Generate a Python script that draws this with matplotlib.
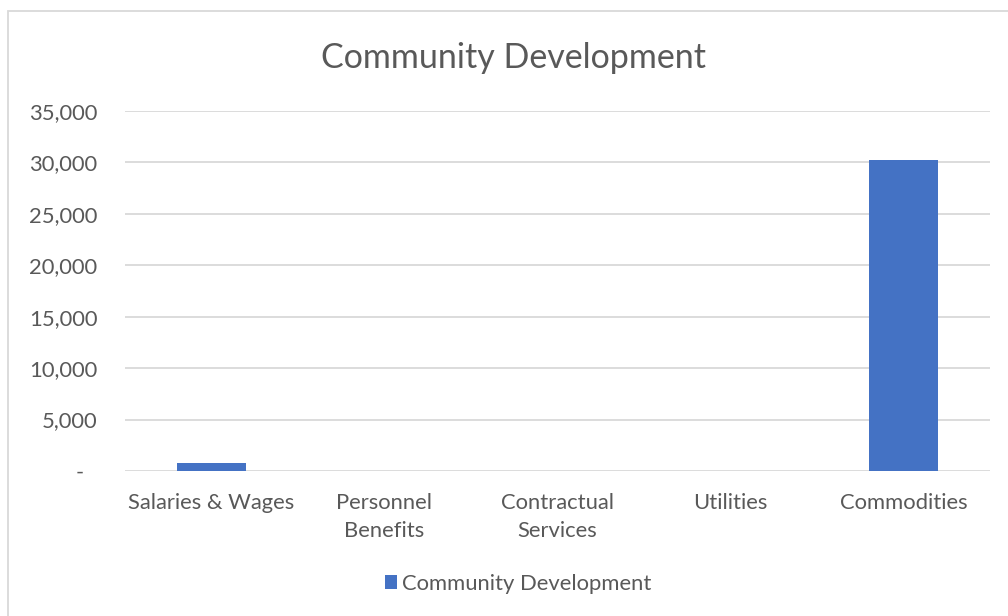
import matplotlib
matplotlib.use("Agg")
import matplotlib.pyplot as plt
from matplotlib.patches import Rectangle
from matplotlib.ticker import FuncFormatter, MultipleLocator

categories = ["Salaries & Wages", "Personnel\nBenefits", "Contractual\nServices", "Utilities", "Commodities"]
values = [750, 0, 0, 0, 30200]
series_name = "Community Development"

BAR_COLOR = "#4472C4"
TEXT_COLOR = "#595959"
GRID_COLOR = "#D9D9D9"
FONT = ["Lato", "DejaVu Sans"]

fig = plt.figure(figsize=(10.08, 6.16), dpi=100)
fig.patch.set_facecolor("white")

# chart frame
fig.add_artist(Rectangle((8 / 1008, -0.1), 1.2, 1 - 11 / 616 + 0.1,
                         transform=fig.transFigure, fill=False,
                         edgecolor=GRID_COLOR, linewidth=1.3))

ax = fig.add_axes([125 / 1008, 1 - 471 / 616, 865 / 1008, 360 / 616])
x = range(len(categories))
bars = ax.bar(x, values, width=0.4, color=BAR_COLOR, label=series_name, zorder=3)

ax.set_xlim(-0.5, len(categories) - 0.5)
ax.set_ylim(0, 35000)
ax.yaxis.set_major_locator(MultipleLocator(5000))


def fmt(v, pos):
    return "-\u2007" if v == 0 else f"{int(v):,}"


ax.yaxis.set_major_formatter(FuncFormatter(fmt))
ax.grid(axis="y", color=GRID_COLOR, linewidth=1.3, zorder=0)
for s in ax.spines.values():
    s.set_visible(False)
ax.tick_params(axis="both", length=0, colors=TEXT_COLOR, labelsize=15.8)
ax.tick_params(axis="y", pad=20)
ax.tick_params(axis="x", pad=16)
ax.set_xticks(list(x))
ax.set_xticklabels(categories, fontfamily=FONT, linespacing=1.5)
for lbl in ax.get_yticklabels():
    lbl.set_fontfamily(FONT)

fig.text(513.5 / 1008, 1 - 58 / 616, series_name, ha="center", va="center",
         fontsize=24.5, color=TEXT_COLOR, fontfamily=FONT)

leg = fig.legend(handles=[bars], labels=[series_name], loc="center",
                 bbox_to_anchor=(518 / 1008, 1 - 584 / 616), frameon=False,
                 handlelength=0.58, handleheight=0.58, handletextpad=0.22,
                 prop={"family": FONT, "size": 15.8})
for t in leg.get_texts():
    t.set_color(TEXT_COLOR)

fig.savefig("out.png", dpi=100)
